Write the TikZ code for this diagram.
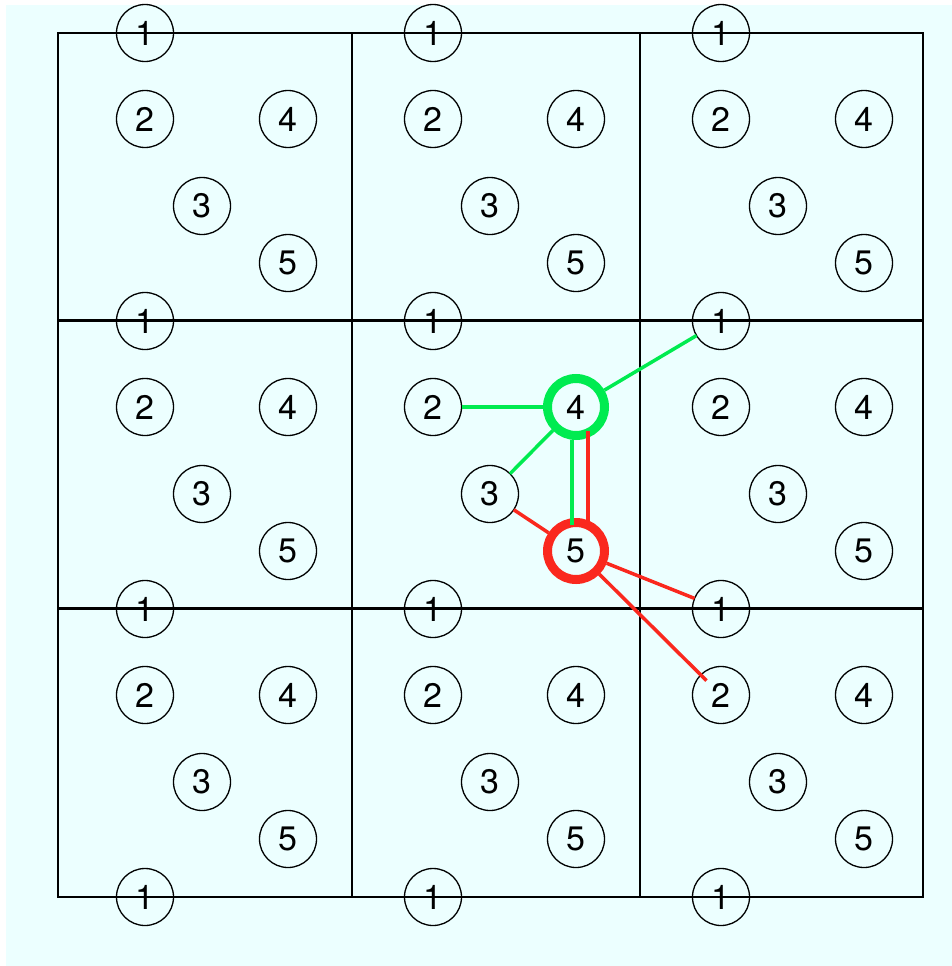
\documentclass[tikz,border=0pt]{standalone}
\usepackage{fontspec}
\setmainfont{TeX Gyre Heros}
\usepackage{xcolor}
\definecolor{bgcyan}{RGB}{236,255,255}
\definecolor{linkgreen}{RGB}{0,235,80}
\definecolor{linkred}{RGB}{250,40,30}
\usetikzlibrary{positioning}

\begin{document}
\begin{tikzpicture}[
    x=1pt, y=-1pt,
    site/.style={
        circle,
        draw,
        line width=1.3pt,
        minimum size=57pt,
        inner sep=0pt,
        outer sep=0pt,
        font=\fontsize{34}{34}\selectfont
    },
    cell/.style={draw, line width=1.5pt},
    hl11-4/.style={draw=linkgreen, line width=9pt},
    hl11-5/.style={draw=linkred, line width=9pt},
    glink/.style={draw=linkgreen, line width=3.5pt},
    rlink/.style={draw=linkred, line width=3.5pt}
]

\useasboundingbox (0,0) rectangle (952,966);
\fill[white] (0,0) rectangle (952,966);
\fill[bgcyan] (6,5) rectangle (952,966);

% cells
\foreach \xa/\xb in {58/352, 352/640, 640/923}
  \foreach \ya/\yb in {33/320, 321.5/608, 609.5/897}
    \draw[cell] (\xa,\ya) rectangle (\xb,\yb);

% sites
\foreach \c in {0,1,2} {
  \foreach \r in {0,1,2} {
    \node[site, hl\c\r-1/.try] (s\c\r-1) at (145+288*\c, 33+288*\r)  {1};
    \node[site, hl\c\r-2/.try] (s\c\r-2) at (145+288*\c, 119+288*\r) {2};
    \node[site, hl\c\r-3/.try] (s\c\r-3) at (202+288*\c, 206+288*\r) {3};
    \node[site, hl\c\r-4/.try] (s\c\r-4) at (288+288*\c, 119+288*\r) {4};
    \node[site, hl\c\r-5/.try] (s\c\r-5) at (288+288*\c, 263+288*\r) {5};
  }
  \node[site] (s\c3-1) at (145+288*\c, 897) {1};
}

% bonds of site 4
\draw[glink, shorten >=4.5pt] (s11-2) -- (s11-4);
\draw[glink, shorten <=4.5pt] (s11-4) -- (s21-1);
\draw[glink, shorten <=4.5pt] (s11-4) -- (s11-3);
\draw[glink, shorten <=4.5pt, shorten >=-2.5pt] ([xshift=-4pt]s11-4.south) -- ([xshift=-4pt]s11-5.north);

% bonds of site 5
\draw[rlink, shorten >=-5pt] ([xshift=12pt]s11-5.north) -- ([xshift=12pt]s11-4.south);
\draw[rlink, shorten >=4.5pt] (s11-3) -- (s11-5);
\draw[rlink, shorten <=4.5pt] (s11-5) -- (s22-1);
\draw[rlink, shorten <=4.5pt, shorten >=-8pt] (s11-5) -- (s22-2);

\end{tikzpicture}
\end{document}
